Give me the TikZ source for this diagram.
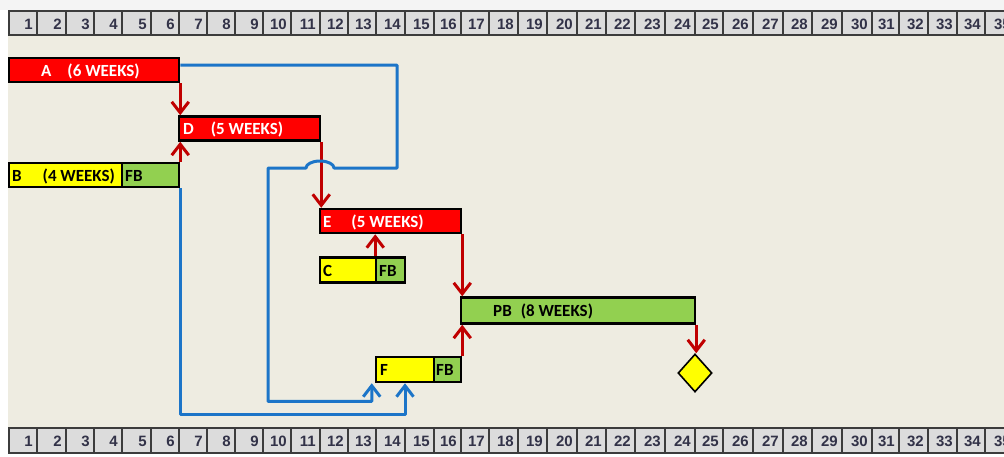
\documentclass[tikz,border=0pt]{standalone}
\usepackage{fontspec}
\setmainfont{Carlito}
\newfontfamily\rulerfont{Liberation Sans}
\usetikzlibrary{arrows.meta,shapes.geometric}
\definecolor{bgbeige}{RGB}{238,236,225}
\definecolor{topgray}{RGB}{244,244,244}
\definecolor{cellgray}{RGB}{220,220,220}
\definecolor{cellline}{RGB}{60,60,60}
\definecolor{numcol}{RGB}{50,50,72}
\definecolor{barred}{RGB}{255,0,0}
\definecolor{baryel}{RGB}{255,255,0}
\definecolor{bargreen}{RGB}{146,208,80}
\definecolor{arrred}{RGB}{192,0,0}
\definecolor{linkblue}{RGB}{28,117,200}
\tikzset{
  bar/.style={draw=black, line width=2.5pt, inner sep=0pt},
  lab/.style={inner sep=0pt, anchor=base west, font=\bfseries\fontsize{17}{17}\selectfont},
  redarr/.style={draw=arrred, line width=3pt, -{Straight Barb[length=11pt,width=17pt]}},
  bluelink/.style={draw=linkblue, line width=3pt, line join=round},
  bluearr/.style={bluelink, -{Straight Barb[length=11pt,width=17pt]}},
  cellbox/.style={fill=cellgray, draw=cellline, line width=1.6pt},
  num/.style={inner sep=0pt, anchor=base east, text=numcol, font=\rulerfont\fontsize{15}{15}\selectfont\bfseries}
}
\begin{document}
\begin{tikzpicture}[x=1pt,y=-1pt]
\useasboundingbox (0,0) rectangle (1004,456);
\clip (0,0) rectangle (1004,456);
\fill[white] (0,0) rectangle (1004,456);
\fill[topgray] (0,0) rectangle (1004,10);
\fill[bgbeige] (8,35) rectangle (1004,428);
% rulers
\foreach \a/\b [count=\i] in {9/37,37/66,66/94,94/122,122/151,151/179,179/207,207/235,235/263,263/291,291/320,320/348,348/376,376/405,405/434,434/461,461/489,489/518,518/547,547/577,577/606,606/635,635/665,665/695,695/723,723/753,753/783,783/812,812/842,842/872,872/899,899/928,928/957,957/985,985/1015}{
  \draw[cellbox] (\a,11) rectangle (\b,35);
  \node[num] (t\i) at (\b-4,29) {\i};
  \draw[cellbox] (\a,428) rectangle (\b,453);
  \node[num] (u\i) at (\b-4,446) {\i};
}
% bars
\node[bar, fill=barred, minimum width=170pt, minimum height=24pt] (A) at (94,70) {};
\node[lab, text=white] (Alab) at (41,76) {A\hspace{16pt}(6 WEEKS)};
\node[bar, fill=barred, minimum width=141pt, minimum height=24pt] (D) at (249.5,128.5) {};
\node[lab, text=white] (Dlab) at (183,134.5) {D\hspace{17pt}(5 WEEKS)};
\node[bar, fill=baryel, minimum width=113pt, minimum height=24pt] (B) at (65.5,175) {};
\node[bar, fill=bargreen, minimum width=57pt, minimum height=24pt] (Bfb) at (150.5,175) {};
\node[lab] (Blab) at (12,181) {B\hspace{21pt}(4 WEEKS)};
\node[lab] (Bfblab) at (125,181) {FB};
\node[bar, fill=barred, minimum width=141pt, minimum height=24pt] (E) at (390.5,221) {};
\node[lab, text=white] (Elab) at (323,227) {E\hspace{20pt}(5 WEEKS)};
\node[bar, fill=baryel, minimum width=56pt, minimum height=25pt] (C) at (348,270) {};
\node[bar, fill=bargreen, minimum width=29pt, minimum height=25pt] (Cfb) at (390.5,270) {};
\node[lab] (Clab) at (323,276) {C};
\node[lab] (Cfblab) at (379,276) {FB};
\node[bar, fill=bargreen, minimum width=234pt, minimum height=26pt] (PB) at (578,310.5) {};
\node[lab] (PBlab) at (493,316.5) {PB\hspace{9pt}(8 WEEKS)};
\node[bar, fill=baryel, minimum width=58pt, minimum height=25pt] (F) at (405,369.5) {};
\node[bar, fill=bargreen, minimum width=27pt, minimum height=25pt] (Ffb) at (447.5,369.5) {};
\node[lab] (Flab) at (380,375.5) {F};
\node[lab] (Ffblab) at (436,375.5) {FB};
\node[diamond, draw=black, line width=1.6pt, fill=baryel, minimum width=34pt, minimum height=38pt, inner sep=0pt] (M) at (695,373) {};
% red arrows
\draw[redarr] (A.south east) -- (A.south east |- D.north);
\draw[redarr] (Bfb.north east) -- (Bfb.north east |- D.south);
\draw[redarr] (D.south east) -- (D.south east |- E.north);
\draw[redarr] ([xshift=-2pt]C.north east) -- ([xshift=-2pt]C.north east |- E.south);
\draw[redarr] (E.south east) -- (E.south east |- PB.north);
\draw[redarr] (Ffb.north east) -- (Ffb.north east |- PB.south);
\draw[redarr] (PB.south east) -- (PB.south east |- M.north);
% blue links
\coordinate (p2) at (397,168);
\coordinate (h1) at (334,168);
\coordinate (p3) at (268,168);
\draw[bluearr] ([yshift=5pt]A.east) -| (p2) -- (h1)
  arc[start angle=0, end angle=180, x radius=14pt, y radius=7pt]
  -- (p3) |- ([xshift=-3pt,yshift=-18pt]F.south west) -- ([xshift=-3pt]F.south west);
\draw[bluearr] (Bfb.south east) |- ([yshift=-31pt]F.south) -- (F.south);
\end{tikzpicture}
\end{document}
